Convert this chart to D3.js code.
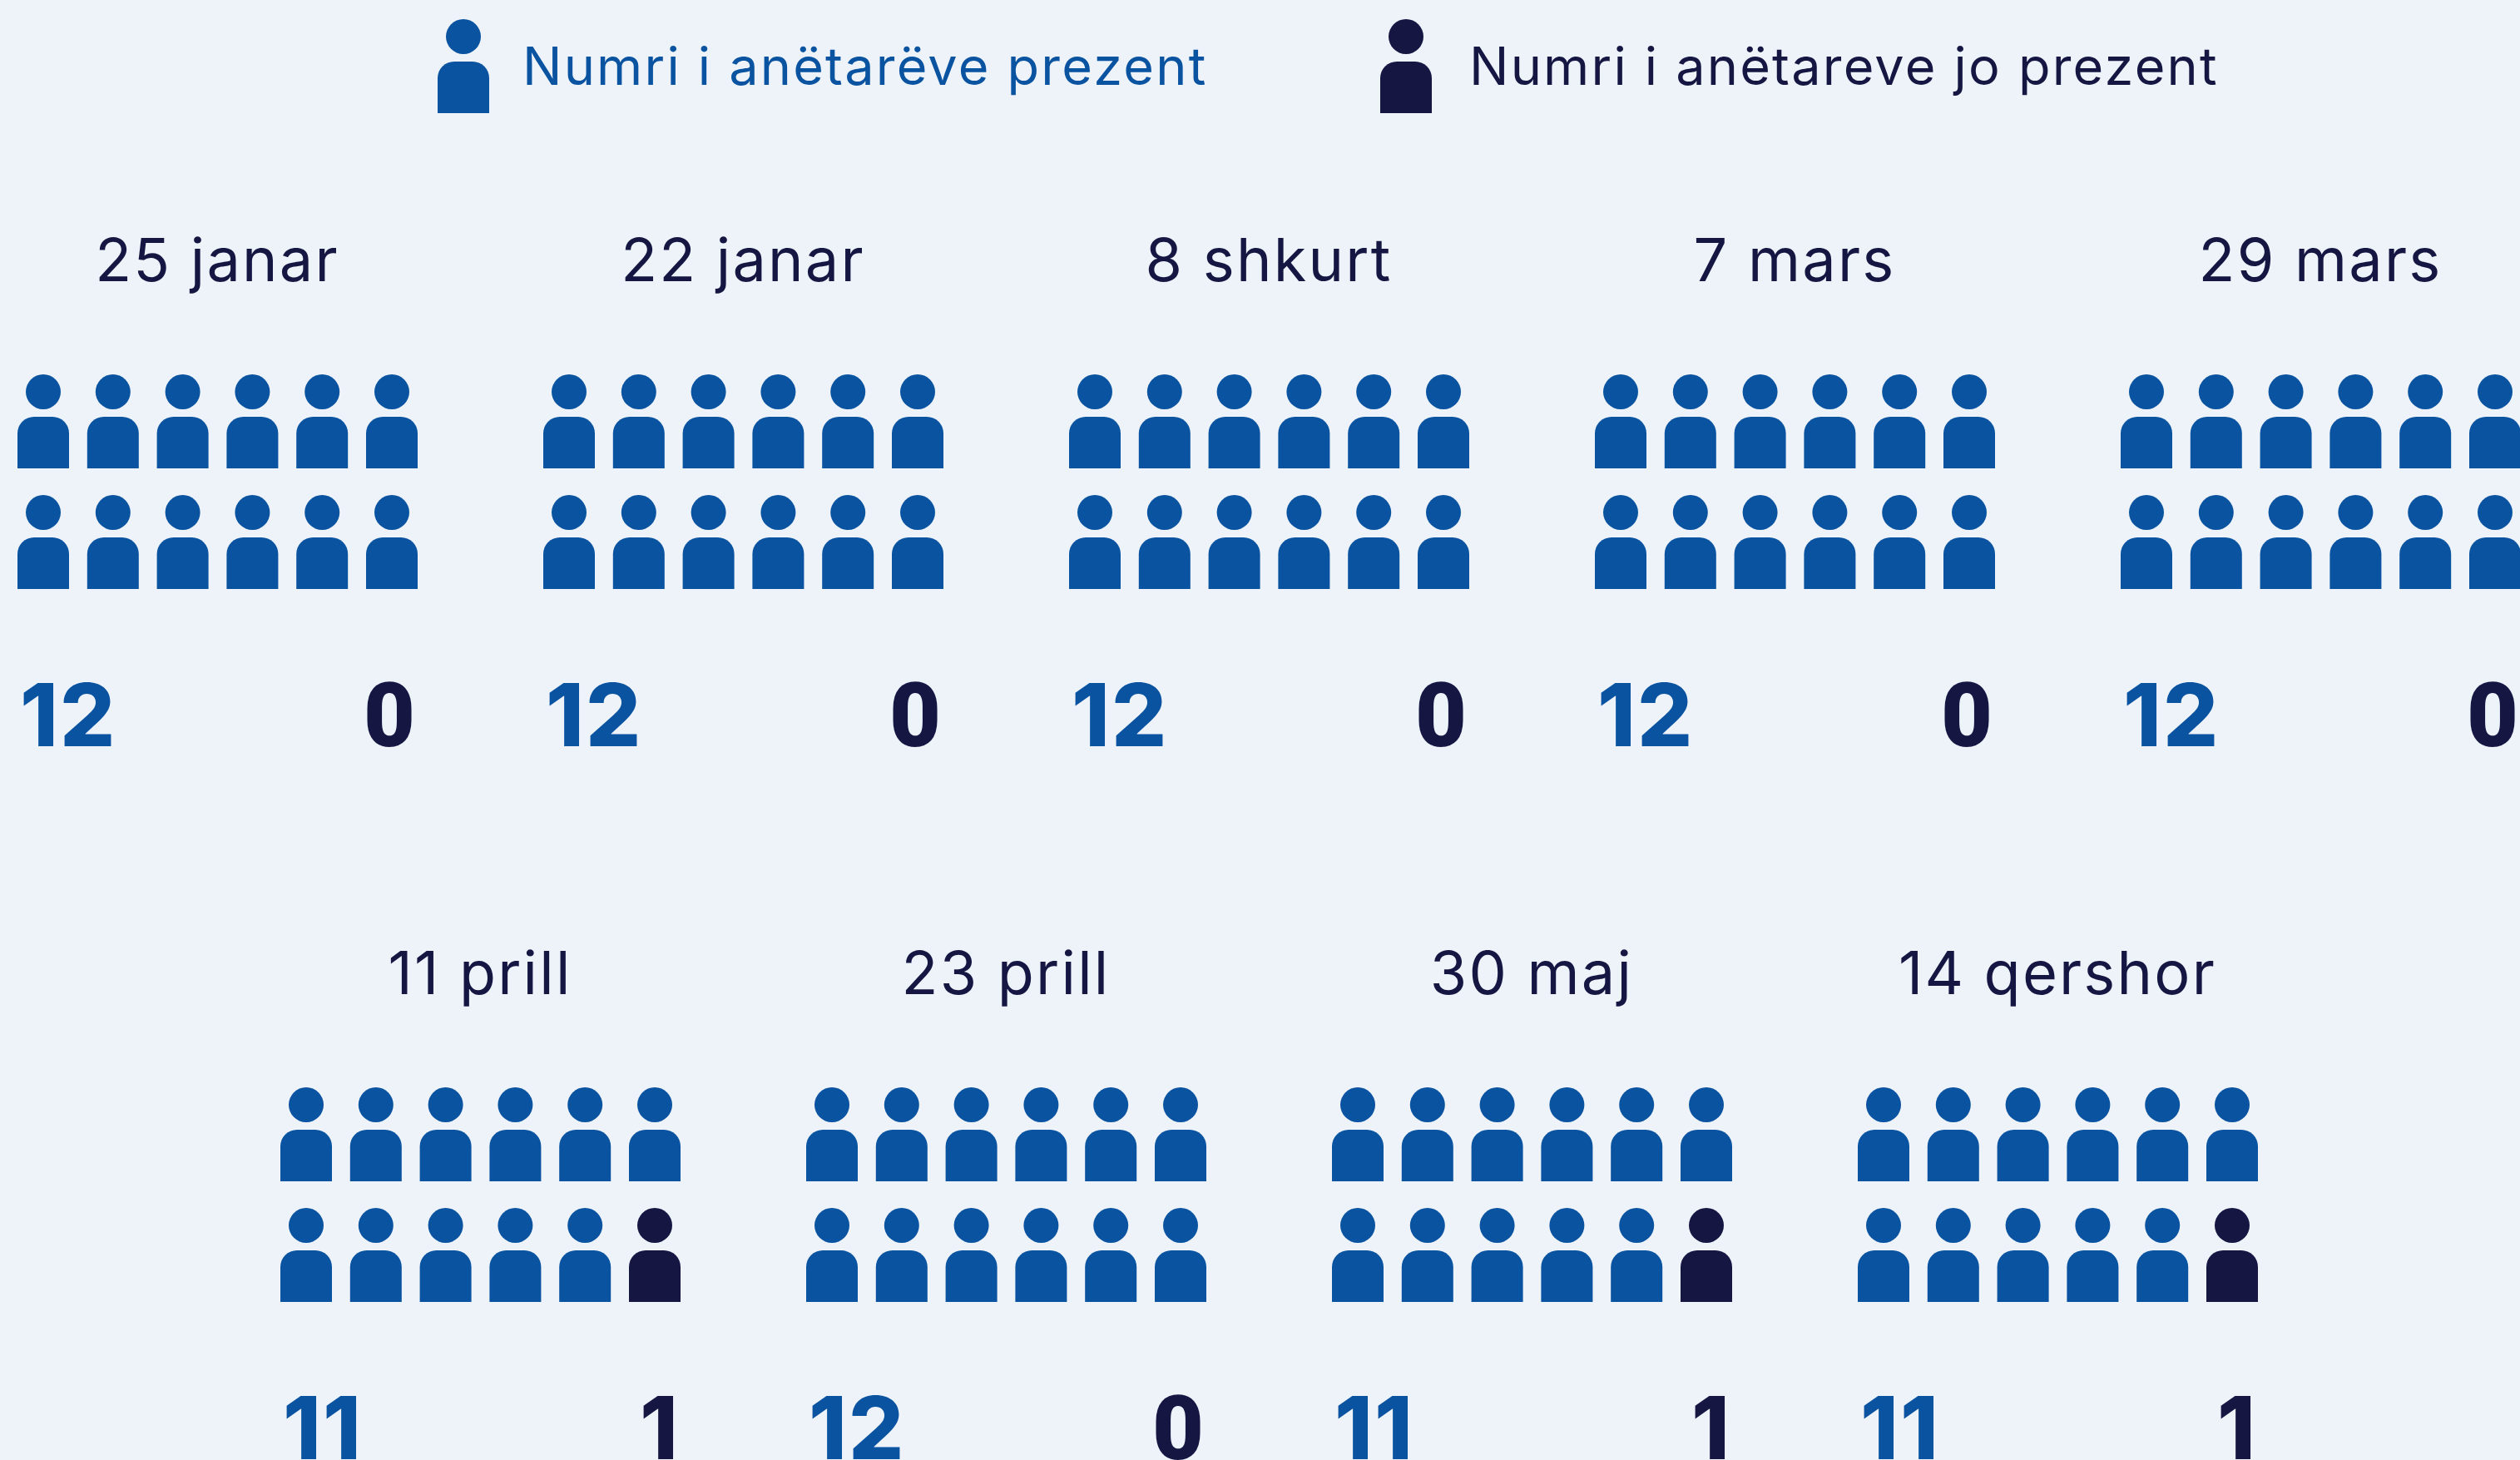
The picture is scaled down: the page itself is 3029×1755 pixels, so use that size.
<!DOCTYPE html>
<html>
<head>
<meta charset="utf-8" />
<script src="https://cdn.jsdelivr.net/npm/d3@7"></script>
<style>
  html, body { margin: 0; padding: 0; background: #eef3fa; overflow: hidden; }
  svg { display: block; }
  text { font-family: Inter, sans-serif; }
</style>
</head>
<body>
<script>
const dates = ["25 janar", "22 janar", "8 shkurt", "7 mars", "29 mars", "11 prill", "23 prill", "30 maj", "14 qershor"];
const present = [12, 12, 12, 12, 12, 11, 12, 11, 11];
const absent = [0, 0, 0, 0, 0, 1, 0, 1, 1];
const legendLabels = ["Numri i anëtarëve prezent", "Numri i anëtareve jo prezent"];

const width = 3029;
const height = 1755;
const blue = "#0a53a0";
const navy = "#161643";

const panelPitch = 632;
const rowPitch = 857;
const perRow = 5;

const svg = d3.select("body").append("svg").attr("width", width).attr("height", height);

svg.append("rect").attr("width", width).attr("height", height).attr("fill", "#eef3fa");

// one person: 62 wide, head on top, rounded shoulders, origin at top left of the head box
const drawPerson = (sel, color) => {
  sel
    .append("ellipse")
    .attr("cx", 31)
    .attr("cy", 21)
    .attr("rx", 21)
    .attr("ry", 21)
    .attr("fill", color);
  sel
    .append("path")
    .attr("d", "M0 113V71a20 20 0 0 1 20 -20H42a20 20 0 0 1 20 20V113Z")
    .attr("fill", color);
};

const colScale = d3.scaleLinear().domain([0, 5]).range([0, 419]);
const lineScale = d3.scaleLinear().domain([0, 1]).range([0, 145]);

const panels = svg
  .selectAll("g.panel")
  .data(dates.map((date, i) => ({ date, present: present[i], absent: absent[i], i })))
  .join("g")
  .attr("class", "panel")
  .attr("transform", (d) => {
    const row = d.i < perRow ? 0 : 1;
    const x = row === 0 ? 21 + d.i * panelPitch : 337 + (d.i - perRow) * panelPitch;
    return `translate(${x} ${row * rowPitch})`;
  });

panels
  .append("text")
  .attr("x", 240)
  .attr("y", 338)
  .attr("text-anchor", "middle")
  .attr("font-size", 72)
  .attr("letter-spacing", 2.2)
  .attr("fill", navy)
  .text((d) => d.date);

panels.each(function (d) {
  const people = d3.range(d.present + d.absent).map((k) => k < d.present);
  d3.select(this)
    .selectAll("g.person")
    .data(people)
    .join("g")
    .attr("class", "person")
    .attr("transform", (_, k) => `translate(${colScale(k % 6)} ${450 + lineScale(Math.floor(k / 6))})`)
    .each(function (isPresent) {
      drawPerson(d3.select(this), isPresent ? blue : navy);
    });
});

panels
  .append("text")
  .attr("x", 3)
  .attr("y", 897)
  .attr("font-size", 104)
  .attr("font-weight", 800)
  .attr("letter-spacing", 2)
  .attr("fill", blue)
  .text((d) => d.present);

// the zero in the reference is much narrower than Inter's, Roboto Black is closer
panels
  .append("text")
  .attr("x", 478)
  .attr("y", 897)
  .attr("text-anchor", "end")
  .attr("font-size", (d) => (d.absent === 0 ? 107 : 104))
  .attr("font-weight", (d) => (d.absent === 0 ? 900 : 800))
  .style("font-family", (d) => (d.absent === 0 ? "Roboto, sans-serif" : null))
  .attr("fill", navy)
  .text((d) => d.absent);

// legend
const legend = svg
  .selectAll("g.legend")
  .data(legendLabels)
  .join("g")
  .attr("class", "legend")
  .attr("transform", (_, i) => `translate(${[526, 1659][i]} 23)`);

legend.each(function (_, i) {
  drawPerson(d3.select(this), i === 0 ? blue : navy);
});

legend
  .append("text")
  .attr("x", (_, i) => [102, 107][i])
  .attr("y", 79)
  .attr("font-size", 63)
  .attr("letter-spacing", 2.2)
  .attr("fill", (_, i) => (i === 0 ? blue : navy))
  .text((d) => d);
</script>
</body>
</html>
